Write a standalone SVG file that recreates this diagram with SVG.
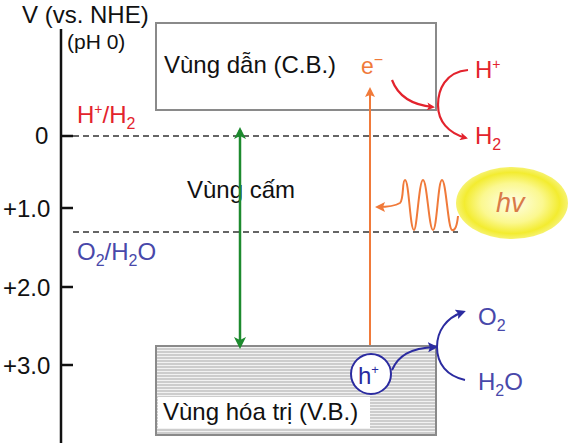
<svg xmlns="http://www.w3.org/2000/svg" width="573" height="443" viewBox="0 0 573 443">
<defs>
<style>
text{font-family:"Liberation Sans",Arial,sans-serif;}
.lbl{font-size:24px;fill:#111;}
.dash{stroke:#333;stroke-width:1.6;stroke-dasharray:6,4;fill:none;}
.tick{stroke:#111;stroke-width:2.5;}
.red{fill:#e3232d;font-size:24px;}
.blue{fill:#4848aa;font-size:24px;}
.sub{font-size:16px;}
.sup{font-size:14px;}
</style>
<pattern id="hatch" width="6" height="3" patternUnits="userSpaceOnUse">
<rect width="6" height="3" fill="#f2f2f2"/>
<line x1="0" y1="1" x2="6" y2="1" stroke="#a8a8a8" stroke-width="1"/>
</pattern>
<radialGradient id="sun" cx="0.5" cy="0.5" r="0.5">
<stop offset="0" stop-color="#fefee8"/>
<stop offset="0.55" stop-color="#fbf890"/>
<stop offset="0.85" stop-color="#f3ec30"/>
<stop offset="1" stop-color="#f6f270"/>
</radialGradient>
<marker id="arrRed" markerWidth="8" markerHeight="8" refX="6" refY="4" orient="auto" markerUnits="userSpaceOnUse" viewBox="0 0 8 8"><path d="M0,0 L8,4 L0,8 L2,4 Z" fill="#e3232d"/></marker>
<marker id="arrBlue" markerWidth="10" markerHeight="10" refX="7" refY="5" orient="auto" markerUnits="userSpaceOnUse" viewBox="0 0 10 10"><path d="M0,0 L10,5 L0,10 L2,5 Z" fill="#2b2ba0"/></marker>
<marker id="arrGreen" markerWidth="12" markerHeight="12" refX="9" refY="6" orient="auto-start-reverse" markerUnits="userSpaceOnUse" viewBox="0 0 12 12"><path d="M0,0 L12,6 L0,12 L3,6 Z" fill="#1d8a2e"/></marker>
<marker id="arrOrange" markerWidth="10" markerHeight="10" refX="7" refY="5" orient="auto" markerUnits="userSpaceOnUse" viewBox="0 0 10 10"><path d="M0,0 L10,5 L0,10 L2,5 Z" fill="#f07a3a"/></marker>
</defs>
<rect width="573" height="443" fill="#fff"/>

<g id="axis">
<line x1="61" y1="29" x2="61" y2="443" stroke="#111" stroke-width="2.5"/>
<line class="tick" x1="61" y1="136" x2="73" y2="136"/>
<line class="tick" x1="61" y1="208" x2="73" y2="208"/>
<line class="tick" x1="61" y1="287" x2="73" y2="287"/>
<line class="tick" x1="61" y1="365" x2="73" y2="365"/>
<text class="lbl" x="22" y="23">V (vs. NHE)</text>
<text x="67" y="49" style="font-size:21px;fill:#111">(pH 0)</text>
<text class="lbl" x="35" y="144">0</text>
<text class="lbl" x="3" y="217">+1.0</text>
<text class="lbl" x="3" y="296">+2.0</text>
<text class="lbl" x="3" y="374">+3.0</text>
</g>

<g id="levels">
<line class="dash" x1="73" y1="136" x2="452" y2="136"/>
<line class="dash" x1="73" y1="232" x2="458" y2="232"/>
<text class="red" x="77" y="123">H<tspan class="sup" dy="-9">+</tspan><tspan dy="9">/H</tspan><tspan class="sub" dy="6">2</tspan></text>
<text class="blue" x="77" y="260">O<tspan class="sub" dy="6">2</tspan><tspan dy="-6">/H</tspan><tspan class="sub" dy="6">2</tspan><tspan dy="-6">O</tspan></text>
</g>

<g id="conduction-band">
<rect x="156" y="23" width="280" height="87" fill="#fff" stroke="#8a8a8a" stroke-width="2"/>
<text class="lbl" x="164" y="73">Vùng dẫn (C.B.)</text>
</g>

<g id="valence-band">
<rect x="156" y="346" width="280" height="89" fill="url(#hatch)" stroke="#8a8a8a" stroke-width="2"/>
<rect x="158" y="397" width="212" height="31" fill="#fff"/>
<text class="lbl" x="163" y="420">Vùng hóa trị (V.B.)</text>
</g>

<g id="band-gap">
<text class="lbl" x="187" y="198">Vùng cấm</text>
</g>

<g id="electron">
<text x="361" y="74" style="font-size:23px;fill:#f07a3a">e<tspan dy="-9" style="font-size:16px">−</tspan></text>
</g>

<g id="hole">
<circle cx="371" cy="374" r="20" fill="#fff" stroke="#2b2ba0" stroke-width="2"/>
<text x="358" y="384" style="font-size:24px;fill:#2b2ba0">h<tspan dy="-10" style="font-size:13px">+</tspan></text>
</g>

<g id="light">
<ellipse cx="512" cy="203" rx="56" ry="36" fill="url(#sun)"/>
<text x="496" y="212" style="font-size:27px;font-style:italic;fill:#d97a48">hv</text>
</g>

<g id="species">
<text class="red" x="475" y="78">H<tspan class="sup" dy="-9">+</tspan></text>
<text class="red" x="475" y="144">H<tspan class="sub" dy="6">2</tspan></text>
<text class="blue" x="478" y="325">O<tspan class="sub" dy="6">2</tspan></text>
<text class="blue" x="478" y="390">H<tspan class="sub" dy="6">2</tspan><tspan dy="-6">O</tspan></text>
</g>

<g id="connectors" fill="none">
<line x1="240" y1="130" x2="240" y2="346" stroke="#1d8a2e" stroke-width="2.5" marker-start="url(#arrGreen)" marker-end="url(#arrGreen)"/>
<line x1="370" y1="345" x2="370" y2="90" stroke="#f07a3a" stroke-width="2" marker-end="url(#arrOrange)"/>
<path d="M458,216 C457,226 455,231 452,230 C448,229 446,180 442,180 C438,180 437,230 433,230 C429,230 427,180 423,180 C419,180 417,230 414,230 C410,230 409,180 405,180 C402,180 404,200 400,203 C395,206 388,207 378,207" stroke="#f07a3a" stroke-width="2" marker-end="url(#arrOrange)"/>
<path d="M392,80 C398,96 412,105 433,107" stroke="#e3232d" stroke-width="2.2" marker-end="url(#arrRed)"/>
<path d="M468,70 C445,72 438,90 438,105 C438,121 448,133 466,138" stroke="#e3232d" stroke-width="2.2" marker-end="url(#arrRed)"/>
<path d="M392,370 C398,356 410,348 435,347" stroke="#2b2ba0" stroke-width="2" marker-end="url(#arrBlue)"/>
<path d="M465,380 C447,376 437,364 437,347 C437,331 446,318 463,312" stroke="#2b2ba0" stroke-width="2" marker-end="url(#arrBlue)"/>
</g>
</svg>
